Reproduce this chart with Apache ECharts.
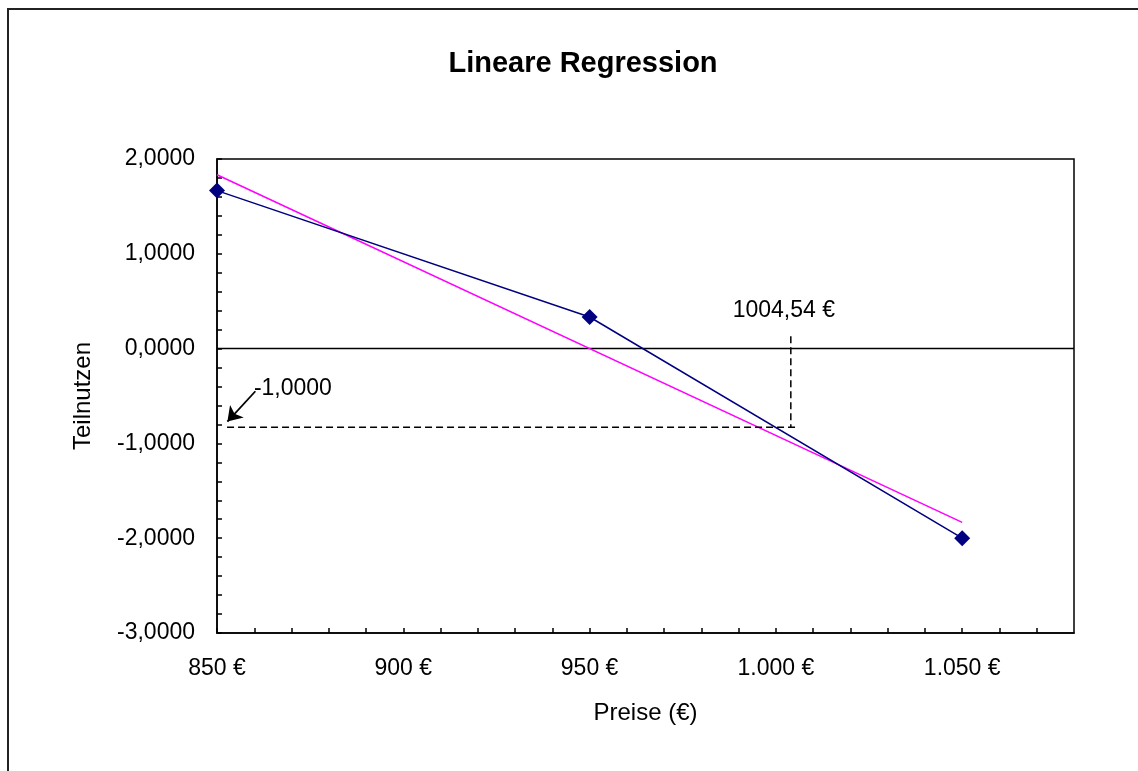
<!DOCTYPE html>
<html>
<head>
<meta charset="utf-8">
<script src="https://cdn.jsdelivr.net/npm/echarts@6/dist/echarts.min.js"></script>
<style>
html,body{margin:0;padding:0;background:#fff;}
#chart{width:1138px;height:771px;}
</style>
</head>
<body>
<div id="chart"></div>
<script>
// Data
const preise = [850, 950, 1050];
const teilnutzen = [1.6667, 0.3333, -2.0];
const trendPreise = [850, 1050];
const trendWerte = [1.8333, -1.8333];
const nullLinie = 0;
// annotation (hand-drawn guide lines in the reference)
const markPreis = 1004;
const markWert = -0.83;
const guideTop = 0.13;
const guideLeft = 852.7;
const guideRight = 1005.4;
const arrowFrom = [860.3, -0.45];
const arrowTo = [852.8, -0.77];
const labelPreis = '1004,54 €';
const labelWert = '-1,0000';
const xTicks = [850, 900, 950, 1000, 1050];
const yTicks = [2, 1, 0, -1, -2, -3];

const FONT = '"Liberation Sans", Arial, sans-serif';
const chart = echarts.init(document.getElementById('chart'));

function fmtX(v){
  const s = Math.round(v).toString();
  return (s.length > 3 ? s.slice(0, s.length-3) + '.' + s.slice(-3) : s) + ' €';
}
function fmtY(v){
  return v.toFixed(4).replace('.', ',');
}
const annLabel = {show: true, fontFamily: FONT, fontSize: 23, color: '#000', textBorderWidth: 0, opacity: 1};

chart.setOption({
  backgroundColor: '#fff',
  animation: false,
  title: {
    text: 'Lineare Regression',
    left: 578, top: 44, textAlign: 'center',
    textStyle: {fontFamily: FONT, fontSize: 29, fontWeight: 'bold', color: '#000'}
  },
  graphic: [{
    type: 'rect', shape: {x: 8, y: 9, width: 1300, height: 1000},
    style: {fill: 'none', stroke: '#222', lineWidth: 2}, silent: true
  }],
  grid: {left: 217, top: 159, right: 64, bottom: 138, show: true,
         borderColor: '#000', borderWidth: 1.5, backgroundColor: 'transparent'},
  xAxis: {
    type: 'value', min: 850, max: 1080, interval: 10,
    name: 'Preise (€)', nameLocation: 'middle', nameGap: 68,
    nameTextStyle: {fontFamily: FONT, fontSize: 24, color: '#000'},
    axisLine: {show: true, onZero: false, lineStyle: {color: '#000', width: 1.5}},
    axisTick: {show: true, inside: true, length: 5, lineStyle: {color: '#000', width: 1.5}},
    splitLine: {show: false},
    axisLabel: {
      fontFamily: FONT, fontSize: 23, color: '#000', margin: 24,
      showMaxLabel: false,
      formatter: v => xTicks.some(t => Math.abs(t - v) < 1e-6) ? fmtX(v) : ''
    }
  },
  yAxis: {
    type: 'value', min: -3, max: 2, interval: 0.2,
    name: 'Teilnutzen', nameLocation: 'middle', nameGap: 122,
    nameTextStyle: {fontFamily: FONT, fontSize: 24, color: '#000'},
    axisLine: {show: true, onZero: false, lineStyle: {color: '#000', width: 1.5}},
    axisTick: {show: true, inside: true, length: 5, lineStyle: {color: '#000', width: 1.5}},
    splitLine: {show: false},
    axisLabel: {
      fontFamily: FONT, fontSize: 23, color: '#000', margin: 22,
      formatter: v => yTicks.some(t => Math.abs(t - v) < 1e-6) ? fmtY(v) : ''
    }
  },
  series: [
    {
      name: 'Nulllinie', type: 'line', symbol: 'none', silent: true,
      data: [[850, nullLinie], [1080, nullLinie]],
      lineStyle: {color: '#000', width: 1.5}
    },
    {
      name: 'Regression', type: 'line', symbol: 'none', silent: true,
      data: trendPreise.map((x, i) => [x, trendWerte[i]]),
      lineStyle: {color: '#FF00FF', width: 1.5}
    },
    {
      name: 'Teilnutzen', type: 'line', symbol: 'diamond', symbolSize: 16,
      data: preise.map((x, i) => [x, teilnutzen[i]]),
      lineStyle: {color: '#000080', width: 1.5},
      itemStyle: {color: '#000080'}
    },
    {
      name: 'HilfH', type: 'line', symbol: 'none', silent: true,
      data: [[guideLeft, markWert], [guideRight, markWert]],
      lineStyle: {color: '#000', width: 1.5, type: [7, 4]}
    },
    {
      name: 'HilfV', type: 'line', symbol: 'none', silent: true,
      data: [[markPreis, guideTop], [markPreis, markWert]],
      lineStyle: {color: '#000', width: 1.5, type: [7, 4]}
    },
    {
      name: 'Pfeil', type: 'lines', coordinateSystem: 'cartesian2d', silent: true,
      symbol: ['none', 'arrow'], symbolSize: 14,
      data: [{coords: [arrowFrom, arrowTo]}],
      lineStyle: {color: '#000', width: 1.8, opacity: 1}
    },
    {
      name: 'Labels', type: 'scatter', symbolSize: 1, silent: true,
      itemStyle: {color: 'rgba(0,0,0,0)'},
      data: [
        {value: [markPreis, guideTop], label: Object.assign({}, annLabel, {position: 'top', distance: 14, offset: [-7, 0], formatter: labelPreis})},
        {value: arrowFrom, label: Object.assign({}, annLabel, {position: 'right', distance: 0, offset: [-2, -3], formatter: labelWert})}
      ]
    }
  ]
});
</script>
</body>
</html>
